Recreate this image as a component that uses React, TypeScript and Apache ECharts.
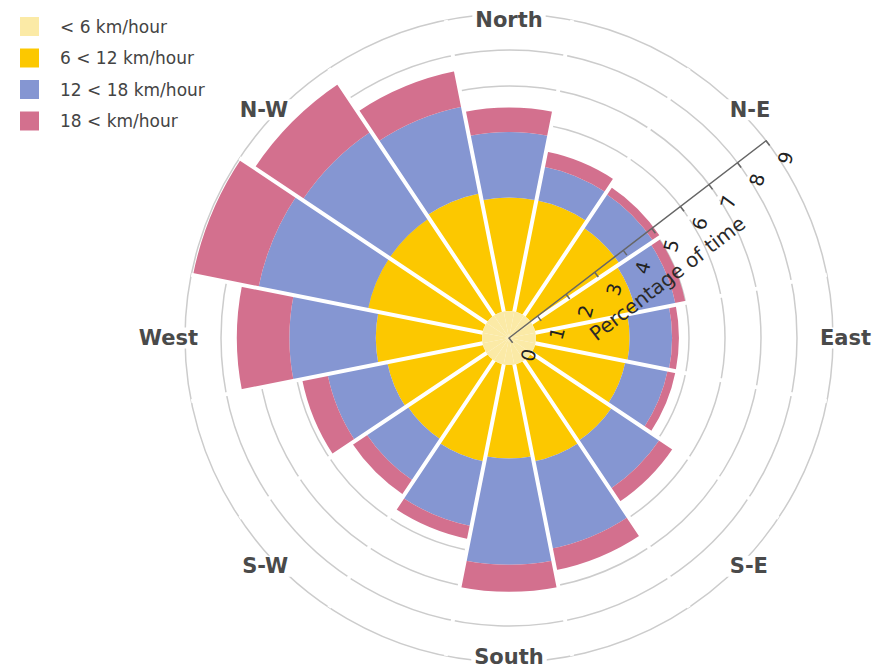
import React, { useEffect, useRef } from "react";
import * as echarts from "echarts";

// Directions, clockwise from North (labels only every second one are shown)
const directions = [
  "North", "NNE", "N-E", "ENE", "East", "ESE", "S-E", "SSE",
  "South", "SSW", "S-W", "WSW", "West", "WNW", "N-W", "NNW",
];

// Percentage of time per speed band (stacked outward)
const calmValues = [0.75, 0.75, 0.75, 0.75, 0.75, 0.75, 0.75, 0.75, 0.75, 0.75, 0.75, 0.75, 0.75, 0.75, 0.75, 0.75];
const moderateValues = [3.15, 3.15, 2.95, 2.85, 2.6, 2.55, 2.7, 2.75, 2.6, 2.75, 2.65, 2.7, 2.95, 3.25, 3.25, 3.35];
const freshValues = [1.82, 0.96, 1.13, 1.12, 1.18, 1.2, 1.6, 2.47, 2.95, 1.83, 1.38, 1.69, 2.4, 3.1, 2.9, 2.46];
const strongValues = [0.68, 0.42, 0.23, 0.28, 0.19, 0.22, 0.44, 0.61, 0.75, 0.37, 0.47, 0.72, 1.46, 1.85, 1.6, 1.0];

const seriesNames = ["< 6 km/hour", "6 < 12 km/hour", "12 < 18 km/hour", "18 < km/hour"];
const seriesColors = ["#fbeaa6", "#fcc800", "#8596d2", "#d3708e"];

const radiusMax = 9;
const axisName = "Percentage of time";

export default function App() {
  const ref = useRef<HTMLDivElement>(null);

  useEffect(() => {
    const chart = echarts.init(ref.current!, undefined, { renderer: "svg" });
    const center = [509, 338];
    const radius = 324;
    const font = "DejaVu Sans";
    const dataSets = [calmValues, moderateValues, freshValues, strongValues];

    const option: any = {
      animation: false,
      backgroundColor: "#ffffff",
      legend: {
        orient: "vertical",
        left: 15,
        top: 12,
        itemWidth: 19,
        itemHeight: 19,
        itemGap: 12.5,
        icon: "rect",
        selectedMode: false,
        data: seriesNames,
        textStyle: {
          fontFamily: font,
          fontSize: 17,
          color: "#444",
          padding: [0, 0, 0, 16],
        },
      },
      polar: [
        { center, radius },
        { center, radius },
        { center, radius },
      ],
      angleAxis: [
        {
          polarIndex: 0,
          type: "category",
          data: directions,
          startAngle: 101.25,
          clockwise: true,
          boundaryGap: true,
          z: 5,
          axisLine: { show: false },
          axisTick: { show: false, interval: 0 },
          axisLabel: {
            interval: 1,
            margin: -16,
            fontFamily: font,
            fontWeight: "bold",
            fontSize: 21,
            color: "#4a4a4a",
            backgroundColor: "#ffffff",
            padding: [0, 3],
          },
          splitLine: {
            show: true,
            interval: 0,
            lineStyle: { color: "#ffffff", width: 4 },
          },
        },
        {
          polarIndex: 1,
          type: "value",
          min: 0,
          max: 360,
          show: false,
        },
        {
          polarIndex: 2,
          type: "value",
          min: 0,
          max: 360,
          startAngle: 37.5,
          show: false,
        },
      ],
      radiusAxis: [
        {
          polarIndex: 0,
          min: 0,
          max: radiusMax,
          axisLine: { show: false },
          axisTick: { show: false },
          axisLabel: { show: false },
          splitLine: { show: false },
        },
        {
          polarIndex: 1,
          min: 0,
          max: radiusMax,
          interval: 1,
          z: 0,
          axisLine: { show: false },
          axisTick: { show: false },
          axisLabel: { show: false },
          splitLine: { show: true, lineStyle: { color: "#cccccc", width: 1.5 } },
        },
        {
          polarIndex: 2,
          min: 0,
          max: radiusMax,
          interval: 1,
          z: 12,
          axisLine: { show: true, lineStyle: { color: "#666666", width: 1.5 } },
          axisTick: { show: true, length: -6, lineStyle: { color: "#666666", width: 1.5 } },
          axisLabel: {
            rotate: 75,
            margin: -29,
            fontFamily: font,
            fontSize: 19,
            color: "#222222",
          },
          splitLine: { show: false },
          name: axisName,
          nameLocation: "middle",
          nameGap: 14,
          nameTextStyle: { fontFamily: font, fontSize: 20, color: "#2a2a2a" },
        },
      ],
      series: dataSets.map((d, i) => ({
        name: seriesNames[i],
        type: "bar",
        coordinateSystem: "polar",
        polarIndex: 0,
        stack: "wind",
        barCategoryGap: "0%",
        z: i === 0 ? 10 : 2,
        itemStyle: { color: seriesColors[i] },
        emphasis: { disabled: true },
        data: d,
      })),
    };

    chart.setOption(option);
    return () => chart.dispose();
  }, []);

  return (
    <div
      ref={ref}
      style={{ position: "fixed", left: 0, top: 0, width: 875, height: 672 }}
    />
  );
}
